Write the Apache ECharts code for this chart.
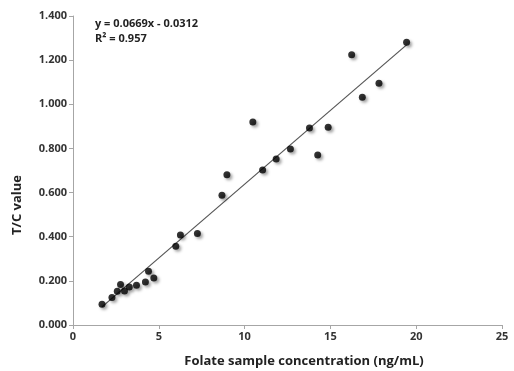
<!DOCTYPE html>
<html>
<head>
<meta charset="utf-8">
<script src="https://cdn.jsdelivr.net/npm/echarts@6/dist/echarts.min.js"></script>
<style>html,body{margin:0;padding:0;background:#fff;}#c{width:514px;height:371px;}</style>
</head>
<body>
<div id="c"></div>
<script>
var concentration = [1.69, 2.27, 2.58, 2.77, 3.0, 3.28, 3.7, 4.22, 4.4, 4.71, 5.99, 6.26, 7.25, 8.68, 8.97, 10.48, 11.05, 11.84, 12.67, 13.78, 14.26, 14.87, 16.24, 16.86, 17.83, 19.44];
var tcValue = [0.094, 0.125, 0.153, 0.184, 0.154, 0.172, 0.18, 0.195, 0.243, 0.213, 0.357, 0.408, 0.414, 0.588, 0.681, 0.92, 0.702, 0.752, 0.797, 0.893, 0.77, 0.896, 1.225, 1.032, 1.095, 1.281];
var trendX = [1.69, 19.44];
var trendY = [0.082, 1.269];
var equationText = 'y = 0.0669x - 0.0312';
var r2Text = 'R\u00B2 = 0.957';
var xTitle = 'Folate sample concentration (ng/mL)';
var yTitle = 'T/C value';

var pts = concentration.map(function (x, i) { return [x, tcValue[i]]; });
var trend = trendX.map(function (x, i) { return [x, trendY[i]]; });
var font = '"Open Sans", "Noto Sans", sans-serif';
var chart = echarts.init(document.getElementById('c'));
chart.setOption({
  animation: false,
  grid: { left: 73, right: 12, top: 16, bottom: 46, containLabel: false },
  xAxis: {
    type: 'value', min: 0, max: 25, interval: 5,
    axisLine: { show: true, lineStyle: { color: '#a6a6a6', width: 1 } },
    axisTick: { show: true, length: 4, lineStyle: { color: '#a6a6a6' } },
    axisLabel: { color: '#333', fontSize: 11, fontFamily: font, fontWeight: 'bold', margin: 6 },
    splitLine: { show: false }
  },
  yAxis: {
    type: 'value', min: 0, max: 1.4, interval: 0.2,
    axisLine: { show: true, lineStyle: { color: '#a6a6a6', width: 1 } },
    axisTick: { show: true, length: 4, lineStyle: { color: '#a6a6a6' } },
    axisLabel: { color: '#333', fontSize: 11, fontFamily: font, fontWeight: 'bold', margin: 6,
      formatter: function (v) { return v.toFixed(3); } },
    splitLine: { show: false }
  },
  series: [
    {
      type: 'line', data: trend, symbol: 'none', silent: true,
      lineStyle: { color: '#555', width: 1.2 }, z: 1
    },
    {
      type: 'scatter', data: pts, symbol: 'circle', symbolSize: 7,
      itemStyle: { color: '#000', shadowBlur: 3, shadowColor: 'rgba(0,0,0,0.45)', shadowOffsetX: 2, shadowOffsetY: 2 },
      z: 2
    }
  ],
  graphic: [
    { type: 'text', left: 95, top: 18, style: { text: equationText, fill: '#222', font: 'bold 11px ' + font } },
    { type: 'text', left: 95, top: 33, style: { text: r2Text, fill: '#222', font: 'bold 11px ' + font } },
    { type: 'text', x: 304, y: 361, style: { text: xTitle, fill: '#222', font: 'bold 13px ' + font, align: 'center', verticalAlign: 'middle' } },
    { type: 'text', x: 17, y: 205, rotation: Math.PI / 2, style: { text: yTitle, fill: '#222', font: 'bold 13px ' + font, align: 'center', verticalAlign: 'middle' } }
  ]
});
</script>
</body>
</html>
